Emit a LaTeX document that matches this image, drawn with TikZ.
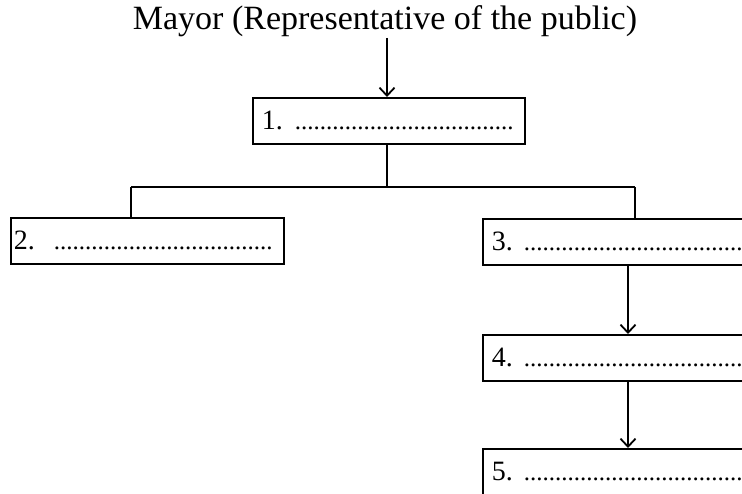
\documentclass[tikz,border=0pt]{standalone}
\usepackage{fontspec}
\setmainfont{Liberation Serif}
\usetikzlibrary{arrows.meta}
\newcommand{\lbl}[3]{\mbox{\makebox[#1pt][l]{\fontsize{28}{28}\selectfont #2}\fontsize{25}{25}\selectfont #3}}
\begin{document}
\begin{tikzpicture}[x=1pt,y=-1pt,
  box/.style={draw, line width=1.8pt, minimum height=46pt, inner ysep=0pt, anchor=north west, align=left},
  conn/.style={line width=1.8pt},
  arr/.style={line width=1.8pt, -{Straight Barb[length=8pt,width=15pt,line width=1.8pt]}}]
\useasboundingbox (0,0) rectangle (742,494);
\clip (0,0) rectangle (742,494);
\node[font=\fontsize{34}{34}\selectfont] (title) at (385,21) {Mayor (Representative of the public)};
\node[box, text width=254pt, inner xsep=9pt] (b1) at (252,97) {\lbl{33}{1.}{...................................}};
\node[box, text width=267pt, inner xsep=3pt] (b2) at (10,217) {\lbl{40}{2.}{...................................}};
\node[box, text width=262pt, inner xsep=9pt] (b3) at (482,218) {\lbl{32}{3.}{...................................}};
\node[box, text width=262pt, inner xsep=9pt] (b4) at (482,334) {\lbl{32}{4.}{...................................}};
\node[box, text width=262pt, inner xsep=9pt] (b5) at (482,448) {\lbl{32}{5.}{...................................}};
\coordinate (top) at (387,38);
\coordinate (split) at (387,187);
\coordinate (lft) at (131,187);
\coordinate (rgt) at (635,187);
\draw[arr] (top) -- (top |- b1.north);
\draw[conn] (b1.south -| split) -- (split);
\draw[conn] (lft) -- (rgt);
\draw[conn] (lft) -- (lft |- b2.north);
\draw[conn] (rgt) -- (rgt |- b3.north);
\draw[arr] (b3.south -| 628,0) -- (b4.north -| 628,0);
\draw[arr] (b4.south -| 628,0) -- (b5.north -| 628,0);
\end{tikzpicture}
\end{document}
